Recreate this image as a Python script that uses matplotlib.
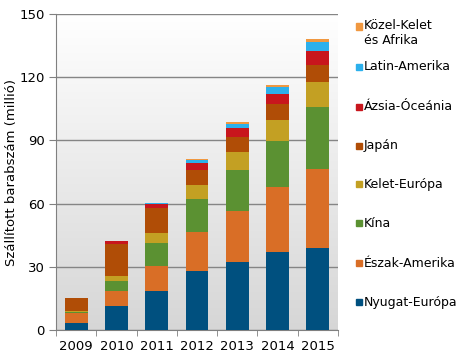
import matplotlib.pyplot as plt
import numpy as np
from matplotlib.patches import Rectangle

years = ["2009", "2010", "2011", "2012", "2013", "2014", "2015"]

# bottom to top
regions = ["Nyugat-Európa", "Észak-Amerika", "Kína", "Kelet-Európa",
           "Japán", "Ázsia-Óceánia", "Latin-Amerika", "Közel-Kelet\nés Afrika"]
nyugat_europa = [3.5, 11.5, 18.7, 28.0, 32.3, 37.0, 38.9]
eszak_amerika = [4.7, 7.0, 11.8, 18.5, 24.2, 30.9, 37.5]
kina = [0.5, 4.8, 10.8, 15.7, 19.4, 21.9, 29.4]
kelet_europa = [0.3, 2.3, 4.7, 6.6, 8.6, 10.0, 11.9]
japan = [6.0, 15.4, 12.1, 7.1, 7.2, 7.6, 8.1]
azsia_oceania = [0.0, 1.1, 1.6, 3.2, 4.3, 4.6, 6.6]
latin_amerika = [0.0, 0.0, 0.4, 1.7, 1.9, 3.2, 4.4]
kozel_kelet = [0.0, 0.2, 0.3, 0.5, 0.8, 1.1, 1.3]

series = [nyugat_europa, eszak_amerika, kina, kelet_europa,
          japan, azsia_oceania, latin_amerika, kozel_kelet]
colors = ["#00507f", "#d96e26", "#5b9132", "#c3a023",
          "#b04d06", "#c8161d", "#2cb0ec", "#f09840"]

fig = plt.figure(figsize=(4.63, 3.57), dpi=100)
ax = fig.add_axes([56 / 463, 1 - 330 / 357, 282 / 463, 316 / 357])

# gradient background, white at top to light grey at bottom
t = np.linspace(0, 1, 256).reshape(-1, 1, 1)
top_c = np.array([1.0, 1.0, 1.0])
bot_c = np.array([0.84, 0.84, 0.84])
grad = top_c * (1 - t) + bot_c * t
ax.imshow(grad, extent=[-0.5, 6.5, 0, 150], aspect="auto",
          origin="upper", zorder=0)

x = np.arange(len(years))
bottom = np.zeros(len(years))
for vals, c in zip(series, colors):
    ax.bar(x, vals, 0.57, bottom=bottom, color=c, zorder=3, linewidth=0)
    bottom += np.array(vals)

ax.set_xlim(-0.5, 6.5)
ax.set_ylim(0, 150)
ax.set_yticks([0, 30, 60, 90, 120, 150])
ax.yaxis.grid(True, color="#858585", linewidth=1, zorder=1)
ax.set_axisbelow(True)
ax.set_xticks(x)
ax.set_xticklabels(years, fontsize=9.5)
ax.set_xticks(np.arange(-0.5, 7, 1), minor=True)
ax.tick_params(axis="x", which="major", length=0, pad=7)
ax.tick_params(axis="x", which="minor", length=4, color="#808080")
ax.tick_params(axis="y", length=5, color="#808080", labelsize=9.5, pad=3)
for s in ["top", "right"]:
    ax.spines[s].set_visible(False)
for s in ["left", "bottom"]:
    ax.spines[s].set_color("#808080")
ax.set_ylabel("Szállított barabszám (millió)", fontsize=9.5, labelpad=1)

# legend, top entry first
legend_y = [26.5, 66.7, 106.7, 145.7, 184.3, 223.3, 263.3, 302.3]
for name, c, yy in zip(regions[::-1], colors[::-1], legend_y):
    fig.patches.append(Rectangle((356 / 463, 1 - (yy + 3) / 357), 6 / 463, 6 / 357,
                                 transform=fig.transFigure, color=c))
    if "\n" in name:
        fig.text(364 / 463, 1 - (yy - 7.5) / 357, name, fontsize=9, va="top",
                 linespacing=1.25)
    else:
        fig.text(364 / 463, 1 - yy / 357, name, fontsize=9, va="center")

fig.savefig("out.png", dpi=100)
